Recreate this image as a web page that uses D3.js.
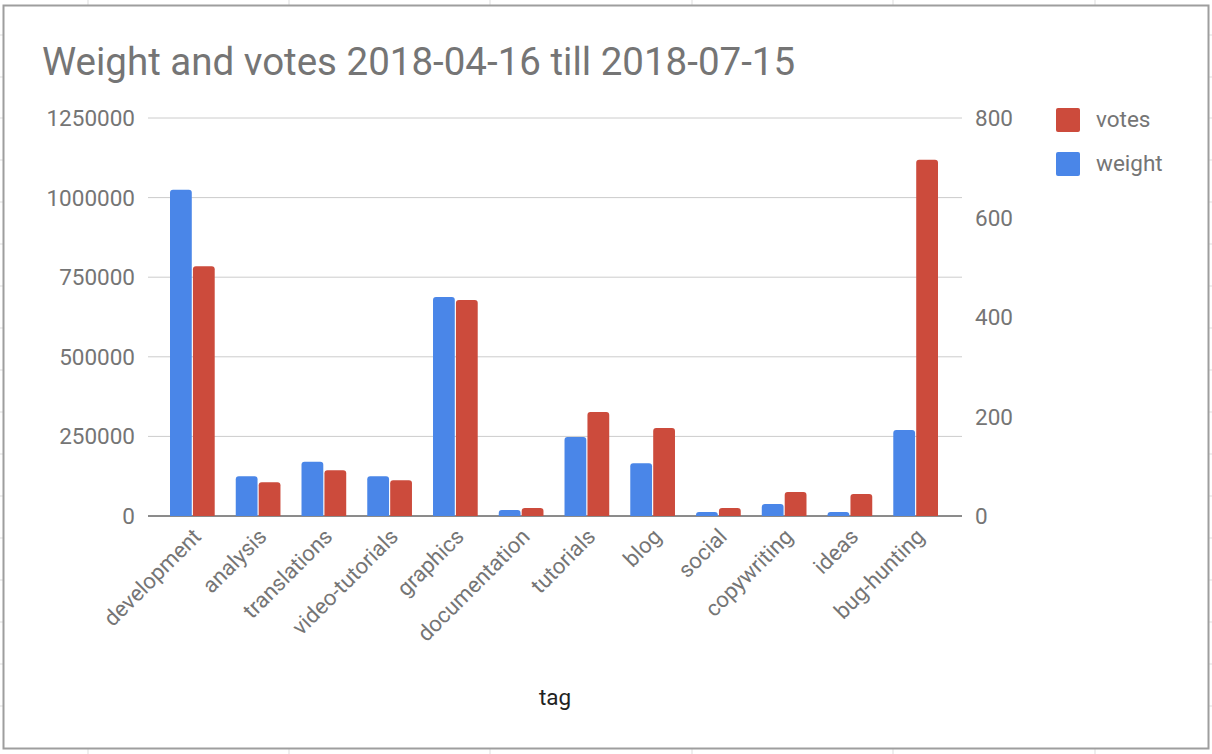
<!DOCTYPE html>
<html><head><meta charset="utf-8">
<script src="https://cdn.jsdelivr.net/npm/d3@7"></script>
<style>body{margin:0;background:#fff;font-family:Roboto,Arial,sans-serif}</style>
</head><body>
<svg id="c" width="1212" height="754"></svg>
<script>
const categories=["development","analysis","translations","video-tutorials","graphics","documentation","tutorials","blog","social","copywriting","ideas","bug-hunting"];
const weight=[1025000,125000,170000,125000,688000,19000,248000,166000,12500,38000,12500,270000];
const votes=[502,68,92,72,434,16,209,177,16,48,44,716];
const leftTicks=[0,250000,500000,750000,1000000,1250000];
const rightTicks=[0,200,400,600,800];

const svg=d3.select("#c");
const gx=[88,289,490,692,893,1095], gy=[35,77,118,160,202,244,286,328,370,412,454,496,538,580,622,664,706];
svg.selectAll(".gx").data(gx).enter().append("line").attr("x1",d=>d).attr("x2",d=>d).attr("y1",0).attr("y2",754).attr("stroke","#ddd");
svg.selectAll(".gy").data(gy).enter().append("line").attr("x1",0).attr("x2",1212).attr("y1",d=>d).attr("y2",d=>d).attr("stroke","#ddd");
svg.append("rect").attr("x",3.5).attr("y",5.5).attr("width",1205).attr("height",743).attr("fill","#fff").attr("stroke","#9e9e9e").attr("stroke-width",2);

const L=148,R=962,T=118,B=516;
const x=d3.scaleBand().domain(categories).range([170,938]).paddingInner(0.32).paddingOuter(0);
const xs=d3.scaleBand().domain(["w","v"]).range([0,x.bandwidth()]).paddingInner(0.05);
const yl=d3.scaleLinear().domain([0,1250000]).range([B,T]);
const yr=d3.scaleLinear().domain([0,800]).range([B,T]);

svg.append("g").selectAll("line").data(leftTicks).enter().append("line")
 .attr("x1",L).attr("x2",R).attr("y1",d=>yl(d)).attr("y2",d=>yl(d)).attr("stroke","#ccc");
svg.append("line").attr("x1",L).attr("x2",R).attr("y1",B).attr("y2",B).attr("stroke","#333");

const tc="#757575";
svg.append("g").selectAll("text").data(leftTicks).enter().append("text")
 .attr("x",135).attr("y",d=>yl(d)+8).attr("text-anchor","end").attr("font-size",22.5).attr("fill",tc).text(d=>d);
svg.append("g").selectAll("text").data(rightTicks).enter().append("text")
 .attr("x",975).attr("y",d=>yr(d)+8).attr("font-size",22.5).attr("fill",tc).text(d=>d);

function rb(xx,y,w,h,r){r=Math.min(r,h);return `M${xx},${y+h}V${y+r}Q${xx},${y} ${xx+r},${y}H${xx+w-r}Q${xx+w},${y} ${xx+w},${y+r}V${y+h}Z`;}
const g=svg.append("g");
g.selectAll(".w").data(categories).enter().append("path").attr("fill","#4a86e8")
 .attr("d",(c,i)=>rb(x(c)+xs("w"),yl(weight[i]),xs.bandwidth(),B-yl(weight[i]),3));
g.selectAll(".v").data(categories).enter().append("path").attr("fill","#cc4b3c")
 .attr("d",(c,i)=>rb(x(c)+xs("v"),yr(votes[i]),xs.bandwidth(),B-yr(votes[i]),3));

svg.append("g").selectAll("text").data(categories).enter().append("text")
 .attr("transform",c=>`translate(${x(c)+x.bandwidth()/2+10},${B+22}) rotate(-45)`)
 .attr("text-anchor","end").attr("font-size",22).attr("fill",tc).text(c=>c);

svg.append("text").attr("x",42).attr("y",75).attr("font-size",38.5).attr("fill",tc).text("Weight and votes 2018-04-16 till 2018-07-15");
svg.append("text").attr("x",555).attr("y",705).attr("text-anchor","middle").attr("font-size",22.5).attr("fill","#222").text("tag");

const leg=[["votes","#cc4b3c"],["weight","#4a86e8"]];
leg.forEach((l,i)=>{
 svg.append("rect").attr("x",1056).attr("y",108+i*44).attr("width",24).attr("height",24).attr("rx",2).attr("fill",l[1]);
 svg.append("text").attr("x",1096).attr("y",127+i*44).attr("font-size",22.5).attr("fill",tc).text(l[0]);
});
</script></body></html>
